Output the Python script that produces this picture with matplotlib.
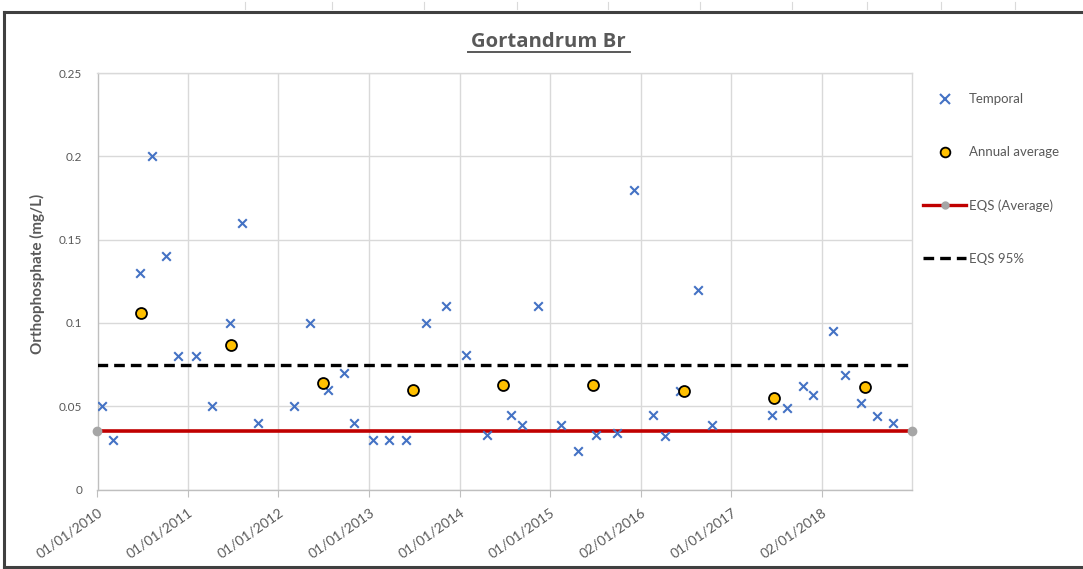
import matplotlib
matplotlib.use("Agg")
import matplotlib.pyplot as plt
from matplotlib.lines import Line2D
import pandas as pd

# ---------------- data ----------------
temporal_dates = [
    "2010-01-20", "2010-03-05", "2010-06-21", "2010-08-07", "2010-10-04", "2010-11-20",
    "2011-02-02", "2011-04-07", "2011-06-19", "2011-08-06", "2011-10-11",
    "2012-03-02", "2012-05-06", "2012-07-19", "2012-09-20", "2012-10-30",
    "2013-01-18", "2013-03-23", "2013-05-28", "2013-08-17", "2013-11-05",
    "2014-01-25", "2014-04-22", "2014-07-29", "2014-09-08", "2014-11-12",
    "2015-02-15", "2015-04-24", "2015-07-04", "2015-09-29", "2015-12-04",
    "2016-02-21", "2016-04-09", "2016-06-09", "2016-08-18", "2016-10-13",
    "2017-06-13", "2017-08-15", "2017-10-18", "2017-11-28",
    "2018-02-17", "2018-04-06", "2018-06-09", "2018-08-13", "2018-10-16",
]
temporal_values = [
    0.05, 0.03, 0.13, 0.20, 0.14, 0.08,
    0.08, 0.05, 0.10, 0.16, 0.04,
    0.05, 0.10, 0.06, 0.07, 0.04,
    0.03, 0.03, 0.03, 0.10, 0.11,
    0.081, 0.033, 0.045, 0.039, 0.11,
    0.039, 0.023, 0.033, 0.034, 0.18,
    0.045, 0.032, 0.059, 0.12, 0.039,
    0.045, 0.049, 0.062, 0.057,
    0.095, 0.069, 0.052, 0.044, 0.040,
]
annual_dates = ["2010-06-24", "2011-06-24", "2012-06-29", "2013-06-25", "2014-06-24",
                "2015-06-22", "2016-06-25", "2017-06-24", "2018-06-23"]
annual_values = [0.106, 0.0865, 0.064, 0.060, 0.0626, 0.0626, 0.059, 0.0548, 0.0613]

eqs_average = 0.035
eqs_95 = 0.075
x_start, x_end = "2010-01-01", "2019-01-01"

tick_dates = ["2010-01-01", "2011-01-01", "2012-01-01", "2013-01-01", "2014-01-01",
              "2015-01-01", "2016-01-02", "2017-01-01", "2018-01-02"]
tick_labels = ["01/01/2010", "01/01/2011", "01/01/2012", "01/01/2013", "01/01/2014",
               "01/01/2015", "02/01/2016", "01/01/2017", "02/01/2018"]
y_ticks = [0, 0.05, 0.1, 0.15, 0.2, 0.25]
y_tick_labels = ["0", "0.05", "0.1", "0.15", "0.2", "0.25"]

title = "Gortandrum Br"
ylabel = "Orthophosphate (mg/L)"
legend_labels = ["Temporal", "Annual average", "EQS (Average)", "EQS 95%"]

# ---------------- plot ----------------
plt.rcParams['font.family'] = ['Lato', 'DejaVu Sans']
W, H = 1083, 569
fig = plt.figure(figsize=(W / 100, H / 100), dpi=100)
fig.patch.set_facecolor("white")

ax = fig.add_axes([97.5 / W, 1 - 489.5 / H, (912.3 - 97.5) / W, (489.5 - 73) / H])

td = pd.to_datetime(temporal_dates)
ad = pd.to_datetime(annual_dates)
xs = pd.to_datetime([x_start, x_end])

grid_c = "#D9D9D9"
text_c = "#595959"

ax.set_xlim(xs[0], xs[1])
ax.set_ylim(0, 0.25)
ax.set_yticks(y_ticks)
ax.set_yticklabels(y_tick_labels)
ax.set_xticks(pd.to_datetime(tick_dates))
ax.set_xticklabels(tick_labels, rotation=35, ha="right", va="top", rotation_mode="anchor")

ax.grid(True, color=grid_c, linewidth=1.0)
ax.set_axisbelow(True)
for s in ax.spines.values():
    s.set_color(grid_c)
    s.set_linewidth(1.0)
ax.spines["left"].set_color("#BFBFBF")
ax.spines["bottom"].set_color("#BFBFBF")
ax.tick_params(axis="y", length=0, labelsize=8.5, labelcolor=text_c, pad=11)
ax.tick_params(axis="x", length=5, color="#BFBFBF", labelsize=10, labelcolor=text_c, pad=7)

# EQS lines
ax.plot(xs, [eqs_average, eqs_average], color="#C00000", linewidth=2.6,
        marker="o", markersize=6, markerfacecolor="#A6A6A6", markeredgecolor="#A6A6A6",
        clip_on=False, zorder=3)
ax.plot(xs, [eqs_95, eqs_95], color="black", linewidth=2.4, linestyle=(0, (3.2, 1.8)),
        zorder=3)

# points
ax.scatter(td, temporal_values, marker="x", s=38, color="#4472C4", linewidths=1.5, zorder=4)
ax.scatter(ad, annual_values, marker="o", s=62, facecolor="#FFC000", edgecolor="black",
           linewidths=1.3, zorder=5)

ax.set_ylabel(ylabel, fontsize=11, color=text_c, fontweight="bold")
ax.yaxis.label.set_va("center")
ax.yaxis.set_label_coords((37 - 97.5) / 814.8, 0.517)

fig.text(548 / W, 1 - 47 / H, title, ha="center", va="baseline", fontsize=14.6,
         color=text_c, fontweight="bold", family=["Open Sans", "DejaVu Sans"])
# underline
fig.add_artist(Line2D([468 / W, 630 / W], [1 - 51.5 / H, 1 - 51.5 / H], color=text_c,
                      linewidth=1.4, transform=fig.transFigure))

# legend
handles = [
    Line2D([], [], linestyle="none", marker="x", color="#4472C4", markersize=7, markeredgewidth=1.5),
    Line2D([], [], linestyle="none", marker="o", markerfacecolor="#FFC000",
           markeredgecolor="black", markersize=7, markeredgewidth=1.3),
    Line2D([], [], color="#C00000", linewidth=2.4, marker="o", markersize=5,
           markerfacecolor="#A6A6A6", markeredgecolor="#A6A6A6"),
    Line2D([], [], color="black", linewidth=2.4, linestyle=(0, (3.2, 1.8))),
]
leg = fig.legend(handles, legend_labels, loc="upper left", bbox_to_anchor=(917.5 / W, 1 - 88 / H),
                 frameon=False, fontsize=9.5, handlelength=3.3, handletextpad=0.2,
                 labelspacing=3.1, borderaxespad=0)
for t in leg.get_texts():
    t.set_color(text_c)

# outer chart frame
frame_c = "#404040"
for xy in ([[3.5 / W, 1.0], [1 - 12 / H, 1 - 12 / H]],
           [[3.5 / W, 3.5 / W], [1 - 12 / H, 1 - 566.5 / H]],
           [[3.5 / W, 1.0], [1 - 566.5 / H, 1 - 566.5 / H]]):
    fig.add_artist(Line2D(xy[0], xy[1], color=frame_c, linewidth=2.2, transform=fig.transFigure))
# faint spreadsheet column marks above the frame
for cx in [245, 332, 424, 517, 608, 700, 792, 867, 941, 1015]:
    fig.add_artist(Line2D([cx / W, cx / W], [1 - 2 / H, 1 - 9 / H], color="#DADADA", linewidth=0.8,
                          transform=fig.transFigure))

fig.savefig("out.png", dpi=100, facecolor="white")
